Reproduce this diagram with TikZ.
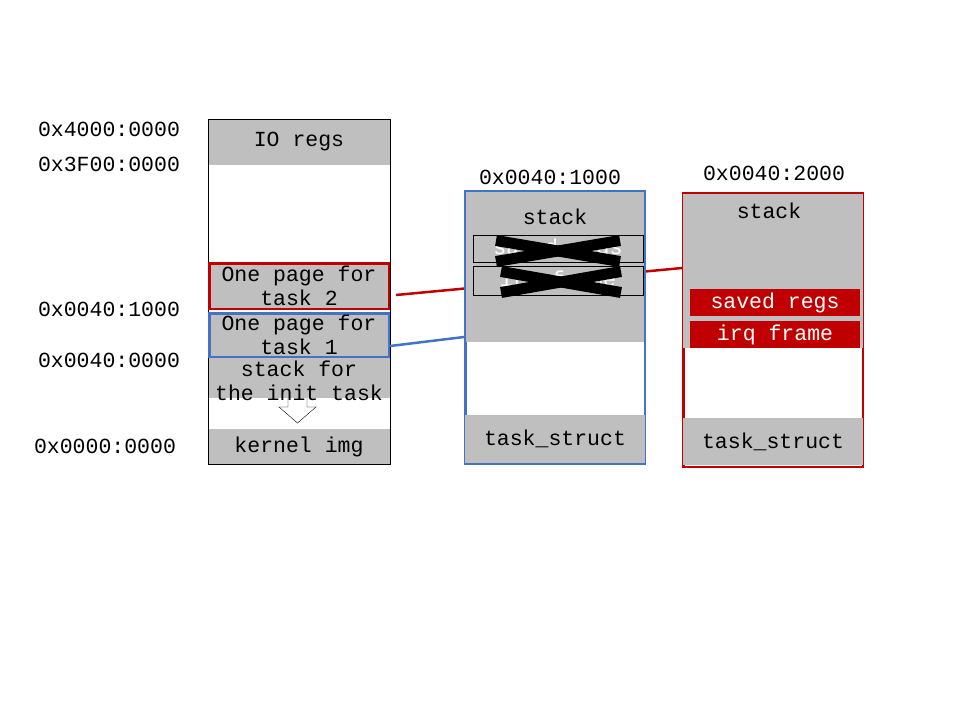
\documentclass[tikz,border=0pt]{standalone}
\usepackage{fontspec}
\setmonofont{Liberation Mono}
\usepackage{tikz}
\usetikzlibrary{
    calc
}
\definecolor{memgray}{HTML}{BFBFBF}
\definecolor{memred}{HTML}{C00000}
\definecolor{memblue}{HTML}{4472C4}
\newcommand{\memfont}{\fontsize{21.5}{24.5}\ttfamily}
\tikzset{
    region/.style={fill=memgray, inner sep=0pt, minimum width=182pt, align=center, font=\memfont},
    page/.style={region, line width=2.5pt, minimum width=179.5pt},
    frame/.style={line width=2.5pt, fill=white, inner sep=0pt, minimum width=179.5pt},
    slot/.style={fill=memred, text=white, inner sep=0pt, minimum width=170pt, minimum height=27pt, font=\memfont},
    addr/.style={font=\memfont, inner sep=0pt, align=center},
    cross/.style={line width=11pt}
}

\begin{document}
\begin{tikzpicture}[x=1pt, y=-1pt]
    \useasboundingbox (0,0) rectangle (960,720);

    \draw (299,142) node[region, minimum height=46pt](io){IO regs};
    \draw (299,378) node[region, minimum height=40pt](init){};
    \draw (299,446.5) node[region, minimum height=35pt](kernel){kernel img};
    \draw (299,291.5) node[draw, inner sep=0pt, minimum width=182pt, minimum height=345pt](mem){};
    \draw[fill=white] (288,398) -- (288,407) -- (279,407) -- (297.5,423) -- (316,407) -- (307,407) -- (307,398);
    \draw (299,381) node[addr](init_lbl){stack for\\the init task};
    \draw (299,286) node[page, draw=memred, minimum height=45.5pt](task2){One page for\\task 2};
    \draw (299,335) node[page, draw=memblue, minimum height=43.5pt](task1){One page for\\task 1};

    \draw (109,129) node[addr](top){0x4000:0000};
    \draw (109,164) node[addr](io_base){0x3F00:0000};
    \draw (109,309) node[addr](p2_base){0x0040:1000};
    \draw (109,360) node[addr](p1_base){0x0040:0000};
    \draw (105,446) node[addr](bottom){0x0000:0000};

    \draw (773,330) node[frame, draw=memred, minimum height=273.5pt](stk2){};
    \draw (773,271) node[region, minimum width=180pt, minimum height=154pt](stk2_top){};
    \draw (769,211) node[addr](stk2_lbl){stack};
    \draw (775,302.5) node[slot](regs2){saved regs};
    \draw (775,334.5) node[slot](irq2){irq frame};
    \draw (773,441.5) node[region, minimum width=180pt, minimum height=47pt](ts2){task\_struct};
    \draw (774,173) node[addr](stk2_addr){0x0040:2000};

    \draw[memred, line width=2.5pt] ([xshift=6pt, yshift=-9pt]task2.east) to ([yshift=62pt]stk2.west);

    \draw (555,327.5) node[frame, draw=memblue, minimum height=272.5pt](stk1){};
    \draw (555,267) node[region, minimum width=178pt, minimum height=150pt](stk1_top){};
    \draw (555,217) node[addr](stk1_lbl){stack};
    \draw (558,248.5) node[slot, fill=memgray, draw, line width=0.8pt](regs1){saved regs};
    \draw (558,280.5) node[slot, fill=memgray, draw, line width=0.8pt, minimum height=29pt](irq1){irq frame};
    \draw[cross] ($(regs1.center)+(-62,-8)$) -- ++(124,21);
    \draw[cross] ($(regs1.center)+(-62,13)$) -- ++(124,-21);
    \draw[cross] ($(irq1.center)+(-57,-9)$) -- ++(120,21);
    \draw[cross] ($(irq1.center)+(-57,12)$) -- ++(120,-21);
    \draw (555,439) node[region, minimum width=180pt, minimum height=48pt](ts1){task\_struct};
    \draw (550,177) node[addr](stk1_addr){0x0040:1000};

    \draw[memblue, line width=2.5pt] ([yshift=-11pt]task1.east) to ([yshift=-9.5pt]stk1.west);
\end{tikzpicture}
\end{document}
